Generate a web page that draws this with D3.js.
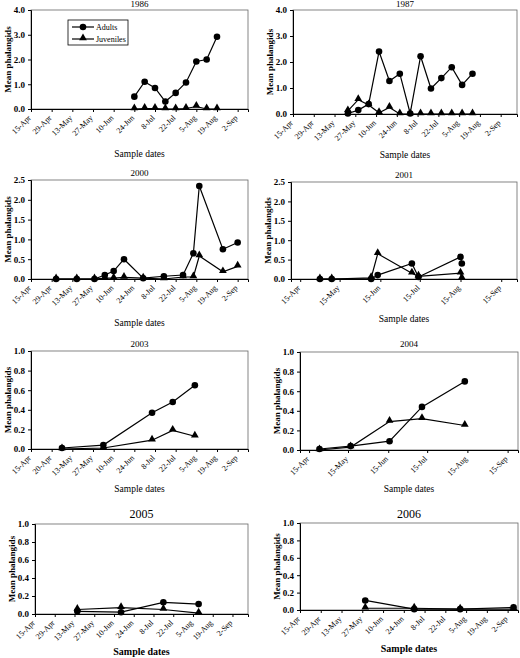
<!DOCTYPE html>
<html><head><meta charset="utf-8">
<script src="https://cdn.jsdelivr.net/npm/d3@7"></script>
<style>body{margin:0;background:#fff}text{font-family:"Liberation Serif",serif;fill:#000}</style>
</head><body><svg id="c" width="520" height="658"></svg>
<script>
// day-of-year values
const ticksWeek = ["15-Apr","29-Apr","13-May","27-May","10-Jun","24-Jun","8-Jul","22-Jul","5-Aug","19-Aug","2-Sep"];
const ticksWeek03 = ["15-Apr","20-Apr","13-May","27-May","10-Jun","24-Jun","8-Jul","22-Jul","5-Aug","19-Aug","2-Sep"];
const ticksMonth = ["15-Apr","15-May","15-Jun","15-Jul","15-Aug","15-Sep"];
const ticksWeekDays = [105,119,133,147,161,175,189,203,217,231,245];
const ticksMonthDays = [105,135,166,196,227,258];

const days1986 = [175,182,189,196,203,210,217,224,231];
const adults1986 = [0.5,1.1,0.85,0.3,0.65,1.07,1.92,2.0,2.92];
const juv1986 = [0,0.02,0.02,0,0,0.02,0.1,0,0];
const days1987 = [142,149,156,163,170,177,184,191,198,205,212,219,226];
const adults1987 = [0.02,0.15,0.38,2.4,1.27,1.55,0.02,2.22,0.98,1.38,1.8,1.12,1.55];
const juv1987 = [0.12,0.55,0.35,0.05,0.25,0,0,0,0,0,0,0,0];
const days2000 = [122,136,148,155,161,168,181,195,208,215,219,235,245];
const adults2000 = [0,0,0,0.1,0.2,0.5,0.02,0.07,0.1,0.65,2.35,0.75,0.92];
const juv2000 = [0,0,0,0.02,0.02,0.04,0.02,0,0.05,0.05,0.58,0.18,0.32];
const days2001 = [120,129,159,164,190,195,227,228];
const adults2001 = [0,0,0,0.1,0.4,0.05,0.57,0.4];
const juv2001 = [0,0,0.03,0.65,0.15,0.07,0.15,0.02];
const days2003 = [126,154,187,201,216];
const adults2003 = [0.01,0.04,0.37,0.48,0.65];
const juv2003 = [0,0.01,0.09,0.19,0.13];
const days2004 = [113,137,167,192,225];
const adults2004 = [0.01,0.04,0.09,0.44,0.7];
const juv2004 = [0,0.03,0.29,0.32,0.25];
const days2005 = [135,166,196,221];
const adults2005 = [0.03,0.02,0.13,0.11];
const juv2005 = [0.05,0.07,0.05,0.01];
const days2006 = [149,182,213,249];
const adults2006 = [0.11,0.01,0.01,0.03];
const juv2006 = [0.02,0.02,0.01,0.01];

const panels = [
 {t:"1986",d:days1986,a:adults1986,j:juv1986,x0:31,x1:248,y0:10,y1:109,xd:[105,252],tl:ticksWeek,td:ticksWeekDays,ymax:4,yt:[0,1,2,3,4],ty:7,ly:157,tf:9,legend:true},
 {t:"1987",d:days1987,a:adults1987,j:juv1987,x0:293,x1:517,y0:10,y1:114,xd:[105,256],tl:ticksWeek,td:ticksWeekDays,ymax:4,yt:[0,1,2,3,4],ty:7,ly:158,tf:9},
 {t:"2000",d:days2000,a:adults2000,j:juv2000,x0:31,x1:248,y0:180,y1:279,xd:[105,252],tl:ticksWeek,td:ticksWeekDays,ymax:2.5,yt:[0,0.5,1,1.5,2,2.5],ty:176,ly:326,tf:9},
 {t:"2001",d:days2001,a:adults2001,j:juv2001,x0:291,x1:517,y0:182,y1:279,xd:[98,270],tl:ticksMonth,td:ticksMonthDays,ymax:2.5,yt:[0,0.5,1,1.5,2,2.5],ty:178,ly:322,tf:9},
 {t:"2003",d:days2003,a:adults2003,j:juv2003,x0:31,x1:248,y0:351,y1:449,xd:[105,252],tl:ticksWeek03,td:ticksWeekDays,ymax:1,yt:[0,.2,.4,.6,.8,1],ty:347,ly:492,tf:9},
 {t:"2004",d:days2004,a:adults2004,j:juv2004,x0:300,x1:518,y0:352,y1:450,xd:[98,266],tl:ticksMonth,td:ticksMonthDays,ymax:1,yt:[0,.2,.4,.6,.8,1],ty:347,ly:492,tf:9},
 {t:"2005",d:days2005,a:adults2005,j:juv2005,x0:35,x1:248,y0:524,y1:614,xd:[105,256],tl:ticksWeek,td:ticksWeekDays,ymax:1,yt:[0,.2,.4,.6,.8,1],ty:518,ly:655,tf:12},
 {t:"2006",d:days2006,a:adults2006,j:juv2006,x0:300,x1:518,y0:523,y1:610,xd:[105,252],tl:ticksWeek,td:ticksWeekDays,ymax:1,yt:[0,.2,.4,.6,.8,1],ty:518,ly:652,tf:12},
];

const svg = d3.select("#c");
const tri = d3.symbol().type(d3.symbolTriangle).size(26);
panels.forEach(p=>{
  const g = svg.append("g");
  const x = d3.scaleLinear().domain(p.xd).range([p.x0,p.x1]);
  const y = d3.scaleLinear().domain([0,p.ymax]).range([p.y1,p.y0]);
  g.append("rect").attr("x",p.x0).attr("y",p.y0).attr("width",p.x1-p.x0).attr("height",p.y1-p.y0)
   .attr("fill","none").attr("stroke","#666").attr("stroke-width",0.8);
  const ya = g.append("g").attr("transform",`translate(${p.x0},0)`)
   .call(d3.axisLeft(y).tickValues(p.yt).tickFormat(d3.format(".1f")).tickSize(3));
  ya.selectAll("text").attr("font-size",9).attr("font-weight","bold");
  const xa = g.append("g").attr("transform",`translate(0,${p.y1})`)
   .call(d3.axisBottom(x).tickValues(p.td).tickFormat((d,i)=>p.tl[i]).tickSize(3));
  xa.selectAll("text").attr("font-size",8).attr("text-anchor","end")
   .attr("transform","translate(-6,0) rotate(-45)").attr("dx","-0.3em").attr("dy","0.6em");
  g.selectAll(".domain, .tick line").attr("stroke","#000");
  g.append("text").attr("x",(p.x0+p.x1)/2).attr("y",p.ty).attr("text-anchor","middle")
   .attr("font-size",p.tf).text(p.t);
  g.append("text").attr("x",(p.x0+p.x1)/2).attr("y",p.ly).attr("text-anchor","middle")
   .attr("font-size",p.tf===12?10:9.5).attr("font-weight",p.tf===12?"bold":"normal").text("Sample dates");
  g.append("text").attr("transform",`translate(${p.x0-20},${(p.y0+p.y1)/2}) rotate(-90)`)
   .attr("text-anchor","middle").attr("font-size",9).attr("font-weight","bold").text("Mean phalangids");
  const line = d3.line().x((v,i)=>x(p.d[i])).y(v=>y(v));
  g.append("path").datum(p.j).attr("d",line).attr("fill","none").attr("stroke","#000").attr("stroke-width",1.2);
  g.append("path").datum(p.a).attr("d",line).attr("fill","none").attr("stroke","#000").attr("stroke-width",1.2);
  g.selectAll(".tj").data(p.j).join("path").attr("d",tri)
   .attr("transform",(v,i)=>`translate(${x(p.d[i])},${y(v)-1})`).attr("fill","#000");
  g.selectAll(".ca").data(p.a).join("circle").attr("cx",(v,i)=>x(p.d[i])).attr("cy",v=>y(v)).attr("r",3.3).attr("fill","#000");
  if(p.legend){
    const L = g.append("g");
    L.append("rect").attr("x",68).attr("y",20).attr("width",60).attr("height",25).attr("fill","#fff").attr("stroke","#000").attr("stroke-width",0.8);
    L.append("line").attr("x1",72).attr("x2",94).attr("y1",27).attr("y2",27).attr("stroke","#000").attr("stroke-width",1.2);
    L.append("circle").attr("cx",83).attr("cy",27).attr("r",3.3);
    L.append("text").attr("x",96).attr("y",30).attr("font-size",8).text("Adults");
    L.append("line").attr("x1",72).attr("x2",94).attr("y1",39).attr("y2",39).attr("stroke","#000").attr("stroke-width",1.2);
    L.append("path").attr("d",tri).attr("transform","translate(83,38)");
    L.append("text").attr("x",96).attr("y",42).attr("font-size",8).text("Juveniles");
  }
});
</script></body></html>
